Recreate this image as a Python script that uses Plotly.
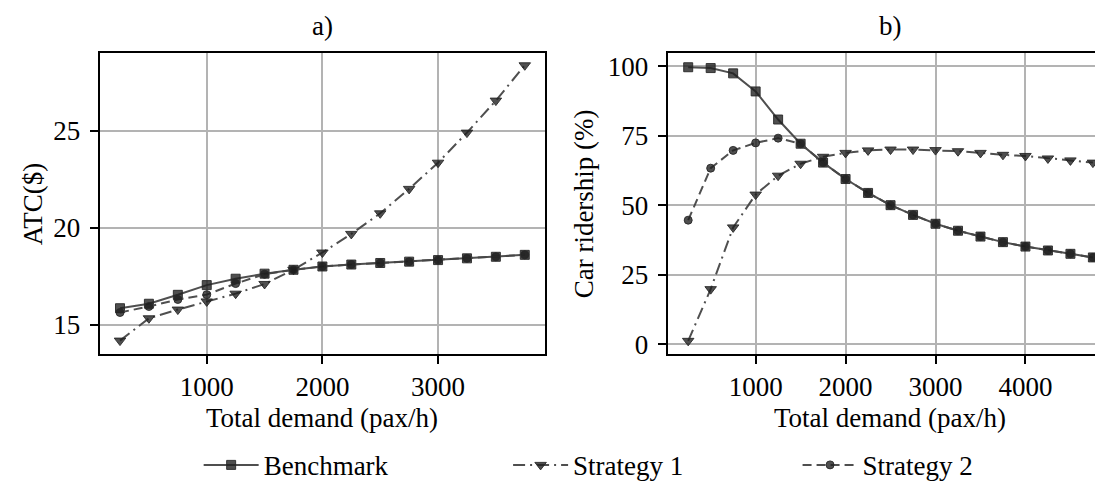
import plotly.graph_objects as go

# ---------------- data ----------------
demand_a = [250, 500, 750, 1000, 1250, 1500, 1750, 2000, 2250, 2500, 2750, 3000, 3250, 3500, 3750]
atc_benchmark = [15.85, 16.08, 16.54, 17.04, 17.37, 17.63, 17.83, 18.0, 18.1, 18.18, 18.25, 18.33, 18.42, 18.5, 18.6]
atc_strategy1 = [14.18, 15.33, 15.78, 16.2, 16.6, 17.1, 17.83, 18.72, 19.68, 20.74, 22.0, 23.35, 24.9, 26.55, 28.37]
atc_strategy2 = [15.63, 15.94, 16.3, 16.55, 17.12, 17.6, 17.83, 18.0, 18.1, 18.18, 18.25, 18.33, 18.42, 18.5, 18.6]

demand_b = [250, 500, 750, 1000, 1250, 1500, 1750, 2000, 2250, 2500, 2750, 3000, 3250, 3500,
            3750, 4000, 4250, 4500, 4750]
car_benchmark = [99.6, 99.3, 97.4, 90.9, 80.8, 72.1, 65.3, 59.4, 54.4, 50.0, 46.5, 43.3, 40.8, 38.7,
                 36.7, 35.1, 33.7, 32.5, 31.2]
car_strategy1 = [1.2, 19.8, 42.0, 53.8, 60.6, 64.9, 67.4, 68.8, 69.7, 70.0, 70.0, 69.8, 69.4, 68.8,
                 68.1, 67.7, 66.8, 66.1, 65.3]
car_strategy2 = [44.6, 63.3, 69.7, 72.4, 74.1, 72.1, 65.3, 59.4, 54.4, 50.0, 46.5, 43.3, 40.8, 38.7,
                 36.7, 35.1, 33.7, 32.5, 31.2]

series_names = ["Benchmark", "Strategy 1", "Strategy 2"]
x_ticks_a = [1000, 2000, 3000]
y_ticks_a = [15, 20, 25]
x_ticks_b = [1000, 2000, 3000, 4000]
y_ticks_b = [0, 25, 50, 75, 100]

# ---------------- style ----------------
FONT = "Liberation Serif, Times New Roman, serif"
FS = 27
LINE_COL = "rgba(70,70,70,0.95)"
styles = [
    dict(dash="solid", symbol="square", size=9),
    dict(dash="12px,5px,2px,5px", symbol="triangle-down", size=10),
    dict(dash="9px,5px", symbol="circle", size=8),
]
legends = ["legend", "legend2", "legend3"]

fig = go.Figure()

data_a = [atc_benchmark, atc_strategy1, atc_strategy2]
data_b = [car_benchmark, car_strategy1, car_strategy2]

for i, name in enumerate(series_names):
    st = styles[i]
    common = dict(
        mode="lines+markers",
        name=name,
        line=dict(color=LINE_COL, width=2, dash=st["dash"]),
        marker=dict(symbol=st["symbol"], size=st["size"], color="rgba(30,30,30,0.78)",
                    line=dict(color="rgba(40,40,40,0.9)", width=1)),
    )
    fig.add_trace(go.Scatter(x=demand_a, y=data_a[i], xaxis="x", yaxis="y",
                             legend=legends[i], showlegend=True, **common))
    fig.add_trace(go.Scatter(x=demand_b, y=data_b[i], xaxis="x2", yaxis="y2",
                             showlegend=False, **common))

axis_common = dict(
    showline=True, linecolor="black", linewidth=1.6, mirror=True,
    ticks="outside", ticklen=8, tickwidth=1.6, tickcolor="black",
    showgrid=True, gridcolor="#b3b3b3", gridwidth=1.5,
    zeroline=False,
    tickfont=dict(family=FONT, size=FS, color="black"),
)

W, H = 1103, 482
a_left, a_right = 91.7, 538.0
b_left, b_right = 660.7, 1103.0
top, bottom = 45.0, 352.5

fig.update_layout(
    width=W, height=H,
    margin=dict(l=0, r=0, t=0, b=0),
    paper_bgcolor="white", plot_bgcolor="white",
    font=dict(family=FONT, size=FS, color="black"),
    xaxis=dict(domain=[a_left / W, a_right / W], range=[73, 3925], tickvals=x_ticks_a,
               anchor="y", **axis_common),
    yaxis=dict(domain=[(H - bottom) / H, (H - top) / H], range=[13.48, 29.0], tickvals=y_ticks_a,
               anchor="x", ticklabelstandoff=4, **axis_common),
    xaxis2=dict(domain=[b_left / W, b_right / W], range=[20, 4929], tickvals=x_ticks_b,
                anchor="y2", **axis_common),
    yaxis2=dict(domain=[(H - bottom) / H, (H - top) / H], range=[-3.6, 104.7], tickvals=y_ticks_b,
                anchor="x2", ticklabelstandoff=4, **axis_common),
    showlegend=True,
)

leg_common = dict(orientation="h", yanchor="middle", xanchor="left", y=(H - 466) / H,
                  font=dict(family=FONT, size=FS, color="black"),
                  bgcolor="rgba(0,0,0,0)", itemwidth=55)
fig.update_layout(
    legend=dict(x=(203 - 12) / W, **leg_common),
    legend2=dict(x=(513 - 12) / W, **leg_common),
    legend3=dict(x=(803 - 12) / W, **leg_common),
)

ann = []
ann.append(dict(text="a)", x=(a_left + a_right) / 2 / W, y=(H - 17) / H))
ann.append(dict(text="b)", x=(b_left + 1107) / 2 / W, y=(H - 17) / H))
ann.append(dict(text="Total demand (pax/h)", x=(a_left + a_right) / 2 / W, y=(H - 418) / H))
ann.append(dict(text="Total demand (pax/h)", x=(b_left + 1107) / 2 / W, y=(H - 418) / H))
ann.append(dict(text="ATC($)", x=25 / W, y=(H - 198.5) / H, textangle=-90))
ann.append(dict(text="Car ridership (%)", x=577 / W, y=(H - 198.5) / H, textangle=-90))
for a in ann:
    a.update(xref="paper", yref="paper", showarrow=False, xanchor="center", yanchor="middle",
             font=dict(family=FONT, size=FS, color="black"))
fig.update_layout(annotations=ann)

fig.write_html("out.html")
